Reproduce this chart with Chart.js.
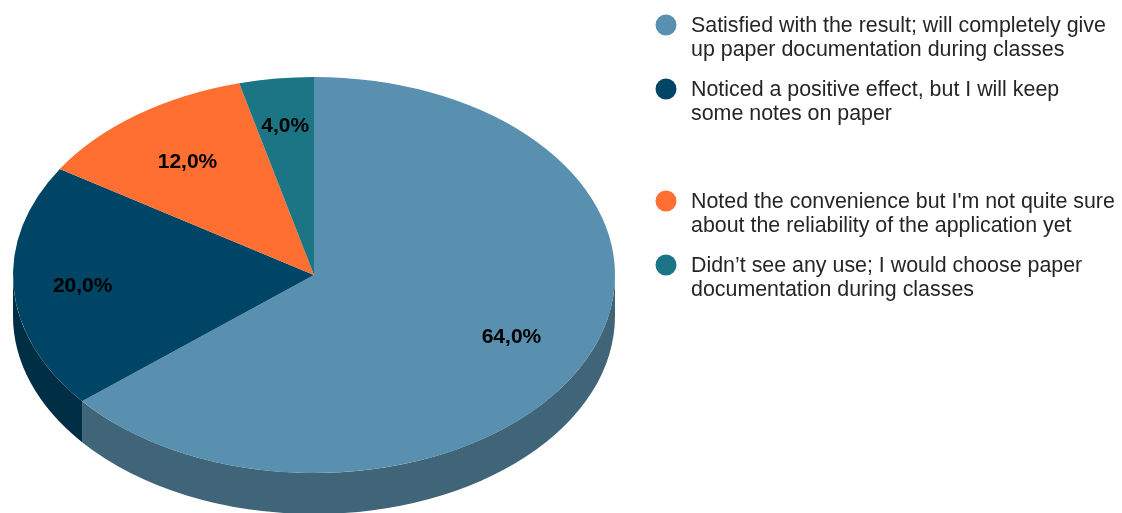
<!DOCTYPE html>
<html>
<head>
<meta charset="utf-8">
<title>Pie</title>
<script src="https://cdn.jsdelivr.net/npm/chart.js@4"></script>
<style>
    html, body { margin: 0; padding: 0; background: #fff; overflow: hidden; }
    #wrap { position: relative; width: 1122px; height: 513px; }
</style>
</head>
<body>
<div id="wrap"><canvas id="grafico"></canvas></div>
<script>
const categorias = [
    ['Satisfied with the result; will completely give', 'up paper documentation during classes'],
    ['Noticed a positive effect, but I will keep', 'some notes on paper'],
    ["Noted the convenience but I'm not quite sure", 'about the reliability of the application yet'],
    ['Didn\u2019t see any use; I would choose paper', 'documentation during classes']
];
const valores = [64, 20, 12, 4];
const rotulos = ['64,0%', '20,0%', '12,0%', '4,0%'];
const cores = ['#5990AF', '#004566', '#FF6F31', '#1C7585'];
const coresLaterais = ['#406578', '#002F45', '#B04E22', '#14525D'];
const legendaY = [25, 89, 201, 265];
const rotuloRaio = [0.725, 0.77, 0.715, 0.765];

const RAIO = 301;
const ACHATAMENTO = 198 / 301;
const PROFUNDIDADE = 41;

// squashes the round pie into an ellipse and paints the side wall under it
const pie3d = {
    id: 'pie3d',
    beforeDatasetsDraw(chart) {
        const ctx = chart.ctx;
        const arcos = chart.getDatasetMeta(0).data;
        const cx = arcos[0].x;
        const cy = arcos[0].y;

        arcos.forEach((arco, i) => {
            // only the front half of the rim can be seen
            const inicio = Math.max(arco.startAngle, 0);
            const fim = Math.min(arco.endAngle, Math.PI);
            if (fim <= inicio) return;
            const rx = arco.outerRadius;
            const ry = rx * ACHATAMENTO;
            ctx.beginPath();
            ctx.ellipse(cx, cy + PROFUNDIDADE, rx, ry, 0, inicio, fim);
            ctx.ellipse(cx, cy, rx, ry, 0, fim, inicio, true);
            ctx.closePath();
            ctx.fillStyle = coresLaterais[i];
            ctx.fill();
        });

        ctx.save();
        ctx.translate(cx, cy);
        ctx.scale(1, ACHATAMENTO);
        ctx.translate(-cx, -cy);
    },
    afterDatasetsDraw(chart) {
        const ctx = chart.ctx;
        ctx.restore();

        const arcos = chart.getDatasetMeta(0).data;
        ctx.save();
        ctx.textAlign = 'center';
        ctx.textBaseline = 'middle';
        ctx.fillStyle = '#000';
        ctx.font = 'bold 21px "Liberation Sans"';
        arcos.forEach((arco, i) => {
            const meio = (arco.startAngle + arco.endAngle) / 2;
            const r = arco.outerRadius * rotuloRaio[i];
            ctx.fillText(rotulos[i], arco.x + Math.cos(meio) * r, arco.y + Math.sin(meio) * r * ACHATAMENTO + 1.5);
        });
        ctx.restore();

        // legend with two-line entries
        ctx.save();
        ctx.textBaseline = 'middle';
        ctx.font = '21.4px "Liberation Sans"';
        categorias.forEach((linhas, i) => {
            ctx.beginPath();
            ctx.arc(666, legendaY[i], 10.5, 0, Math.PI * 2);
            ctx.fillStyle = cores[i];
            ctx.fill();
            ctx.fillStyle = '#262626';
            linhas.forEach((linha, j) => ctx.fillText(linha, 691, legendaY[i] + 1 + j * 24));
        });
        ctx.restore();
    }
};

new Chart(document.getElementById('grafico').getContext('2d'), {
    type: 'pie',
    data: {
        labels: categorias.map(l => l.join(' ')),
        datasets: [{
            data: valores,
            backgroundColor: cores,
            borderWidth: 0,
            clip: false
        }]
    },
    options: {
        responsive: true,
        maintainAspectRatio: false,
        animation: false,
        radius: RAIO,
        events: [],
        layout: { padding: { left: 0, right: 494, top: 37, bottom: 0 } },
        plugins: {
            legend: { display: false },
            tooltip: { enabled: false }
        }
    },
    plugins: [pie3d]
});
</script>
</body>
</html>
